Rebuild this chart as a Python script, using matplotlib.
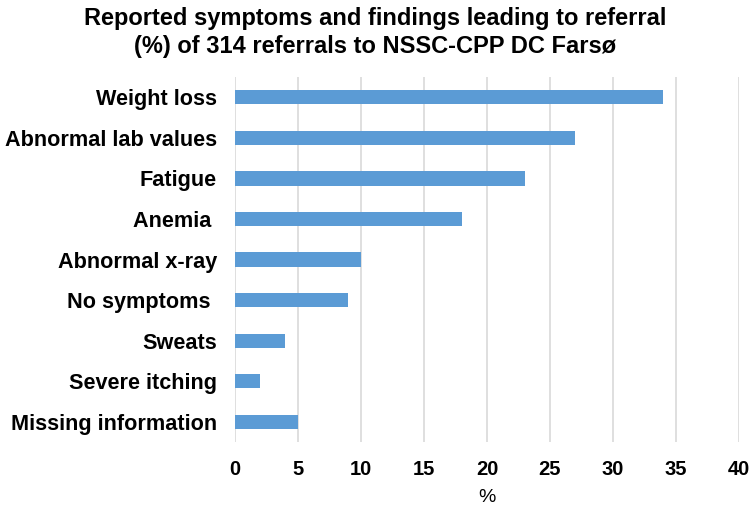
import matplotlib
matplotlib.use("Agg")
import matplotlib.pyplot as plt
import numpy as np

plt.rcParams['font.family'] = ['Liberation Sans', 'DejaVu Sans']

categories = ["Weight loss", "Abnormal lab values", "Fatigue", "Anemia ",
              "Abnormal x-ray", "No symptoms ", "Sweats", "Severe itching",
              "Missing information"]
values = [34, 27, 23, 18, 10, 9, 4, 2, 5]
xticks = [0, 5, 10, 15, 20, 25, 30, 35, 40]

fig = plt.figure(figsize=(7.5, 5.07), dpi=100)
ax = fig.add_axes([0.3133, 0.128, 0.672, 0.72])

y = np.arange(len(categories))
ax.barh(y, values, height=0.35, color='#5b9bd5', zorder=3)
ax.set_ylim(len(categories) - 0.5, -0.5)
ax.set_xlim(0, 40)
ax.set_xticks(xticks)
ax.set_yticks(y)
ax.set_yticklabels(categories, fontsize=15.6, fontweight='bold')
ax.tick_params(axis='x', labelsize=14.5, length=0, pad=13)
ax.tick_params(axis='y', length=0, pad=13)
for lbl in ax.get_xticklabels():
    lbl.set_fontweight('bold')
ax.grid(axis='x', color='#d9d9d9', linewidth=1.2, zorder=0)
for s in ax.spines.values():
    s.set_visible(False)
ax.set_xlabel('%', fontsize=14, labelpad=7)

fig.suptitle("Reported symptoms and findings leading to referral\n(%) of 314 referrals to NSSC-CPP DC Farsø",
             x=0.5, y=0.987, fontsize=17, fontweight='bold', linespacing=1.3)

fig.savefig('out.png', dpi=100)
